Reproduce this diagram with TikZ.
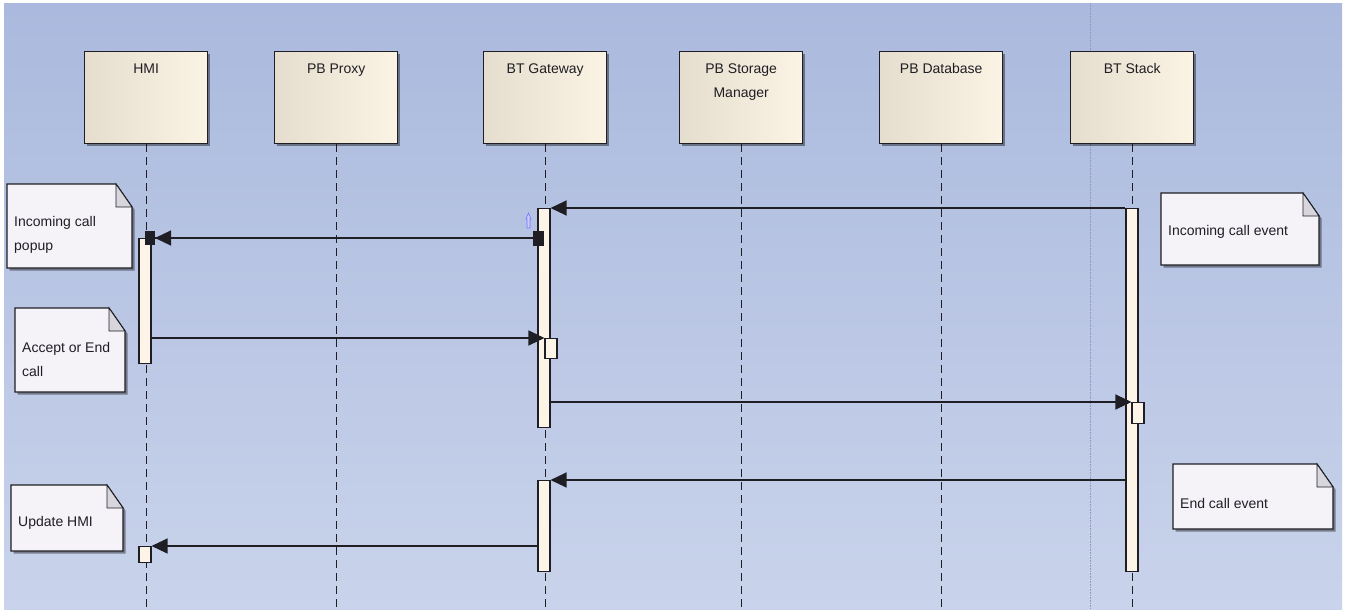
\documentclass[tikz,border=0pt]{standalone}
\usepackage{fontspec}
\setmainfont{Liberation Sans}
\usetikzlibrary{arrows.meta,shadows}

\definecolor{bgtop}{RGB}{170,185,221}
\definecolor{bgbot}{RGB}{201,211,235}
\definecolor{headL}{RGB}{229,221,205}
\definecolor{headR}{RGB}{251,243,228}
\definecolor{actfill}{RGB}{252,244,230}
\definecolor{notefill}{RGB}{246,243,248}
\definecolor{foldfill}{RGB}{214,214,220}
\definecolor{ink}{RGB}{30,30,36}
\definecolor{pageline}{RGB}{150,150,196}

\begin{document}
\begin{tikzpicture}[
        x=1pt, y=-1pt,
        every node/.style={font=\fontsize{14}{24}\selectfont, text=ink},
        shadowed/.style={drop shadow={shadow xshift=2.5pt, shadow yshift=-2.5pt, fill=black, opacity=.4}},
        head/.style={rectangle, draw=ink, line width=1.4pt, left color=headL, middle color=headR, right color=headR,
            minimum width=123pt, minimum height=92pt, inner sep=0pt, anchor=north west, shadowed,
            label={[anchor=north, yshift=-9pt, align=center]north:#1}},
        lifeline/.style={draw=ink, line width=1.3pt, dash pattern=on 8pt off 5pt},
        act/.style={rectangle, draw=ink, line width=1.1pt, fill=actfill, minimum width=12pt, inner sep=0pt, anchor=north},
        msg/.style={draw=ink, line width=1.2pt, -{Triangle[length=16pt, width=15pt]}},
        note/.style={draw=ink, line width=1.1pt, fill=notefill, shadowed},
        fold/.style={draw=ink, line width=.9pt, fill=foldfill},
        notetext/.style={anchor=west, align=left, inner sep=0pt}
    ]

    % Canvas
    \useasboundingbox (0,0) rectangle (1345,611);
    \shade[top color=bgtop, bottom color=bgbot] (4,3) rectangle (1342,609);
    \draw[pageline, line width=.6pt, densely dotted] (1090,3) -- (1090,609);

    % Lifeline heads
    \node[head=HMI] (hmi) at (84,51) {};
    \node[head=PB Proxy] (proxy) at (274,51) {};
    \node[head=BT Gateway] (gateway) at (483,51) {};
    \node[head={PB Storage\\Manager}] (storage) at (679,51) {};
    \node[head=PB Database] (database) at (879,51) {};
    \node[head=BT Stack] (stack) at (1070,51) {};

    % Lifelines
    \foreach \n in {hmi,proxy,gateway,storage,database,stack}
        \draw[lifeline] (\n.south) -- ++(0,466);

    % Activations
    \node[act, minimum height=125pt] (hmiAct) at (145,238) {};
    \node[act, minimum height=219pt] (gwActA) at (544,208) {};
    \node[act, minimum height=363pt] (stackAct) at (1132,208) {};
    \node[act, minimum height=91pt] (gwActB) at (544,480) {};
    \node[act, minimum height=20pt] (gwSub) at (551,338) {};
    \node[act, minimum height=21pt] (stackSub) at (1138,402) {};
    \node[act, minimum height=16pt] (hmiSub) at (145,546) {};

    % Messages
    \draw[msg] (stackAct.north west) -- (gwActA.north east);
    \draw[msg, {Rectangle[length=11pt, width=15pt]}-{Triangle[length=16pt, width=15pt] Rectangle[length=10pt, width=14pt]}]
        (gwActA.north |- hmiAct.north) -- (hmiAct.north);
    \draw[msg] (hmiAct.east |- gwSub.north) -- (gwSub.north west);
    \draw[msg] (gwActA.east |- stackSub.north) -- (stackSub.north west);
    \draw[msg] (stackAct.west |- gwActB.north) -- (gwActB.north east);
    \draw[msg] (gwActB.west |- hmiSub.north) -- (hmiSub.north east);

    % small marker by the gateway
    \draw[blue!55, fill=blue!20, line width=.6pt] (526,219) -- (528.5,213) -- (531,219) -- (530,219)
        -- (530,228) -- (527,228) -- (527,219) -- cycle;

    % Notes
    \foreach \nm/\x/\y/\w/\h/\ty/\txt in {
            popup/7/184/125/84/235/{Incoming call\\popup},
            accept/15/308/110/84/359/{Accept or End\\call},
            update/11/485/112/66/523/{Update HMI},
            incoming/1161/193/158/72/232/{Incoming call event},
            endcall/1173/464/160/65/503/{End call event}} {
        \draw[note] (\x,\y) -- ++(\w-16,0) -- ++(16,23) -- (\x+\w,\y+\h) -- (\x,\y+\h) -- cycle;
        \draw[fold] (\x+\w-16,\y) -- ++(0,23) -- ++(16,0) -- cycle;
        \node[notetext] (\nm) at (\x+7,\ty) {\txt};
    }

\end{tikzpicture}
\end{document}
